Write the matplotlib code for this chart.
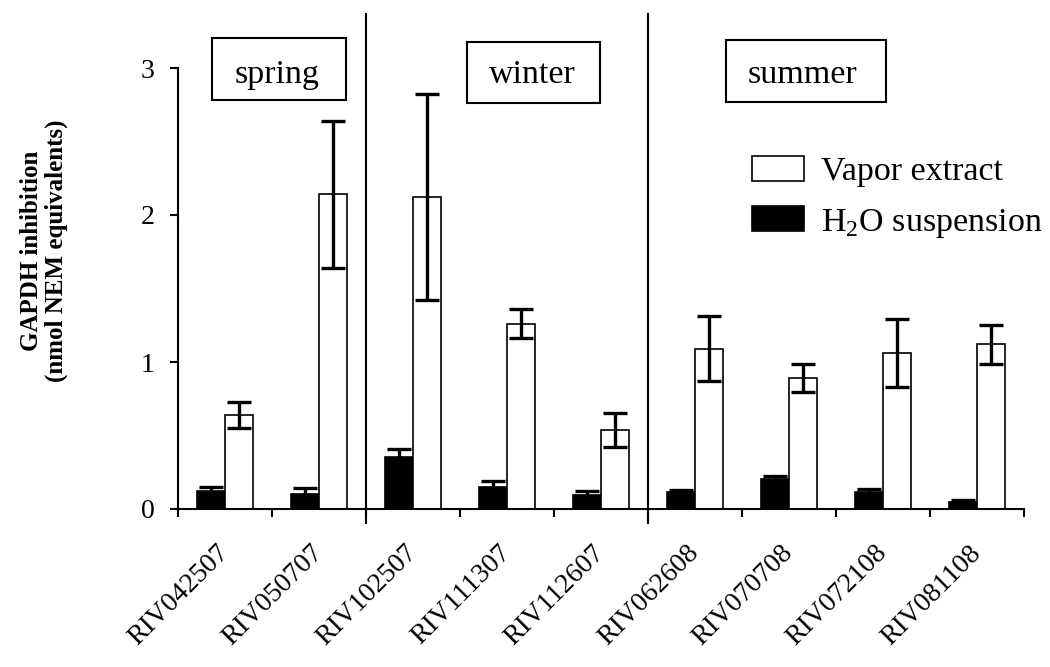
import matplotlib.pyplot as plt
from matplotlib.patches import Patch, Rectangle
import numpy as np

plt.rcParams['font.family'] = ['Liberation Serif', 'DejaVu Serif']
plt.rcParams['mathtext.fontset'] = 'custom'
plt.rcParams['mathtext.rm'] = 'Liberation Serif'

samples = ['RIV042507', 'RIV050707', 'RIV102507', 'RIV111307', 'RIV112607',
           'RIV062608', 'RIV070708', 'RIV072108', 'RIV081108']
vapor = [0.64, 2.14, 2.12, 1.26, 0.54, 1.09, 0.89, 1.06, 1.12]
vapor_err = [0.09, 0.50, 0.70, 0.10, 0.115, 0.22, 0.095, 0.23, 0.134]
water = [0.12, 0.10, 0.355, 0.15, 0.095, 0.115, 0.205, 0.118, 0.05]
water_err = [0.03, 0.045, 0.05, 0.04, 0.025, 0.015, 0.02, 0.02, 0.01]
seasons = ['spring', 'winter', 'summer']
season_breaks = [1.5, 4.5]

W, H = 1050, 667
fig = plt.figure(figsize=(10.5, 6.67), dpi=100)
ax = fig.add_axes([178 / W, 1 - 509 / H, (1024 - 178) / W, (509 - 68) / H])

x = np.arange(len(samples))
bw = 0.3
ekw = dict(elinewidth=2.4, capthick=2.4, capsize=8.5, ecolor='black')
ax.bar(x - bw / 2, water, bw, yerr=water_err, color='black', edgecolor='black',
       linewidth=1.2, error_kw=ekw, zorder=2)
ax.bar(x + bw / 2, vapor, bw, yerr=vapor_err, color='white', edgecolor='black',
       linewidth=1.2, error_kw=ekw, zorder=2)

ax.set_xlim(-0.5, len(samples) - 0.5)
ax.set_ylim(0, 3)

# season separators
for b in season_breaks:
    ax.plot([b, b], [-0.095, 3.37], color='black', lw=1.5, clip_on=False, zorder=3)

for s in ['top', 'right']:
    ax.spines[s].set_visible(False)
for s in ['left', 'bottom']:
    ax.spines[s].set_linewidth(1.5)

ax.set_yticks([0, 1, 2, 3])
ax.tick_params(axis='y', direction='out', length=6, width=1.5, labelsize=20, pad=11)
ax.set_xticks(np.arange(len(samples) + 1) - 0.5)
ax.set_xticklabels([])
ax.tick_params(axis='x', which='major', direction='out', length=6, width=1.5)
ax.set_xticks(x, minor=True)
ax.set_xticklabels(samples, minor=True, rotation=45, ha='right', va='center',
                   rotation_mode='anchor', fontsize=20)
ax.tick_params(axis='x', which='minor', length=0, pad=29)

fig.text(44 / W, 1 - 251 / H, 'GAPDH inhibition\n(nmol NEM equivalents)',
         rotation=90, ha='center', va='center', ma='center',
         fontsize=18, fontweight='bold', linespacing=1.05)

# season boxes
boxes = [(212, 38, 346, 100, 277), (467, 42, 600, 103, 532), (726, 40, 886, 102, 802)]
for name, (x0, y0, x1, y1, tx) in zip(seasons, boxes):
    fig.patches.append(Rectangle((x0 / W, 1 - y1 / H), (x1 - x0) / W, (y1 - y0) / H,
                                 transform=fig.transFigure, facecolor='white',
                                 edgecolor='black', lw=1.5))
    fig.text(tx / W, 1 - 83 / H, name, ha='center', va='baseline', fontsize=24.5)

handles = [Patch(facecolor='white', edgecolor='black', lw=1.2, label='Vapor extract'),
           Patch(facecolor='black', edgecolor='black', lw=1.2, label='H$_\\mathrm{2}$O suspension')]
fig.legend(handles=handles, loc='upper left', bbox_to_anchor=(752 / W, 1 - 156 / H),
           frameon=False, fontsize=24.5, borderpad=0, borderaxespad=0,
           handlelength=1.52, handleheight=0.76, handletextpad=0.5, labelspacing=0.55)

fig.savefig('out.png', dpi=100)
